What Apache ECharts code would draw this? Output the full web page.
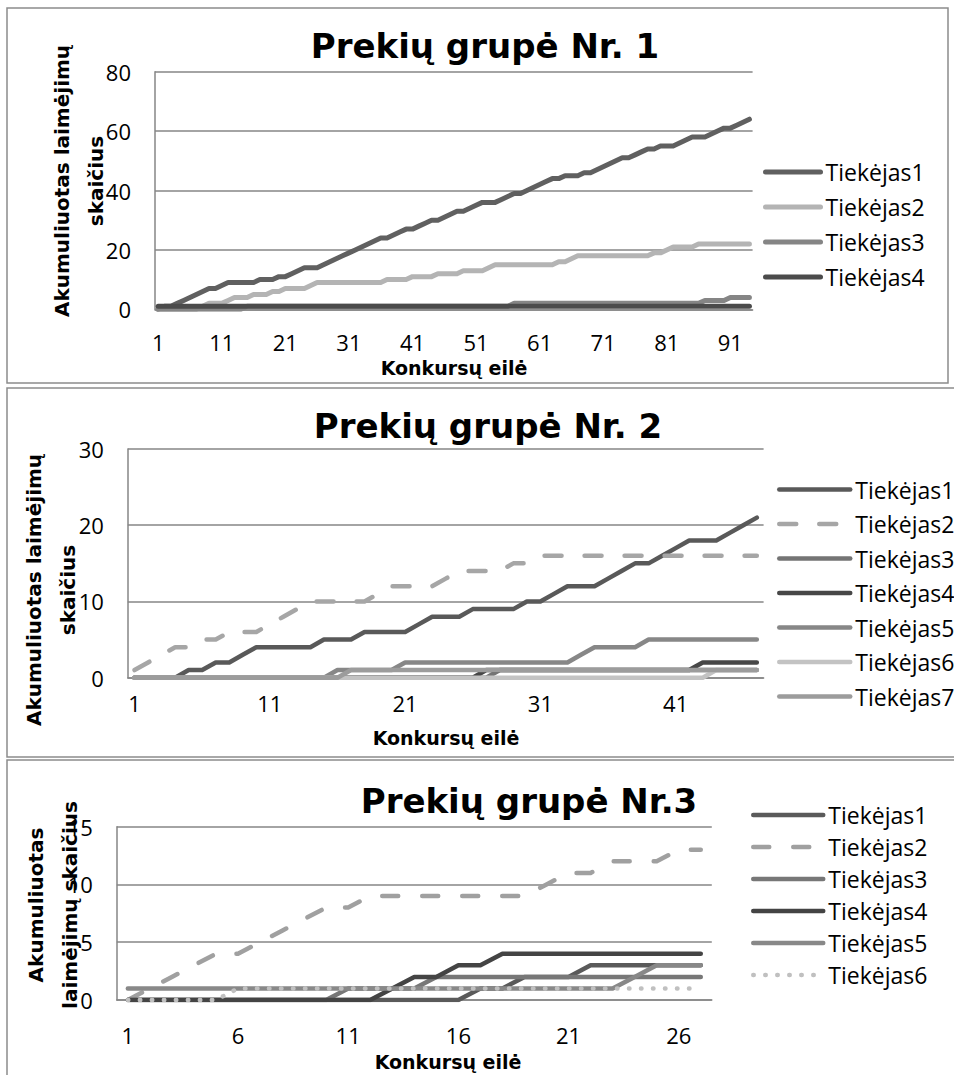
<!DOCTYPE html>
<html><head><meta charset="utf-8">
<script src="https://cdn.jsdelivr.net/npm/echarts@6/dist/echarts.min.js"></script>
<style>
html,body{margin:0;padding:0;background:#fff;width:954px;height:1075px;overflow:hidden;}
.c{position:absolute;left:0;width:954px;}
</style></head><body>
<div id="c1" class="c" style="top:0;height:386px"></div>
<div id="c2" class="c" style="top:386px;height:372px"></div>
<div id="c3" class="c" style="top:758px;height:317px"></div>
<script>
// ---------- DATA ----------
const names = ['Tiekėjas1','Tiekėjas2','Tiekėjas3','Tiekėjas4','Tiekėjas5','Tiekėjas6','Tiekėjas7'];

const cats1 = [1,2,3,4,5,6,7,8,9,10,11,12,13,14,15,16,17,18,19,20,21,22,23,24,25,26,27,28,29,30,31,32,33,34,35,36,37,38,39,40,41,42,43,44,45,46,47,48,49,50,51,52,53,54,55,56,57,58,59,60,61,62,63,64,65,66,67,68,69,70,71,72,73,74,75,76,77,78,79,80,81,82,83,84,85,86,87,88,89,90,91,92,93,94];
const g1_t1 = [0,1,1,2,3,4,5,6,7,7, 8,9,9,9,9,9,10,10,10,11, 11,12,13,14,14,14,15,16,17,18, 19,20,21,22,23,24,24,25,26,27, 27,28,29,30,30,31,32,33,33,34, 35,36,36,36,37,38,39,39,40,41, 42,43,44,44,45,45,45,46,46,47, 48,49,50,51,51,52,53,54,54,55, 55,55,56,57,58,58,58,59,60,61, 61,62,63,64];
const g1_t2 = [0,0,0,0,0,0,0,1,2,2, 2,3,4,4,4,5,5,5,6,6, 7,7,7,7,8,9,9,9,9,9, 9,9,9,9,9,9,10,10,10,10, 11,11,11,11,12,12,12,12,13,13, 13,13,14,15,15,15,15,15,15,15, 15,15,15,16,16,17,18,18,18,18, 18,18,18,18,18,18,18,18,19,19, 20,21,21,21,21,22,22,22,22,22, 22,22,22,22];
const g1_t3 = [0,0,0,0,0,0,0,0,0,0, 0,0,0,0,1,1,1,1,1,1, 1,1,1,1,1,1,1,1,1,1, 1,1,1,1,1,1,1,1,1,1, 1,1,1,1,1,1,1,1,1,1, 1,1,1,1,1,1,2,2,2,2, 2,2,2,2,2,2,2,2,2,2, 2,2,2,2,2,2,2,2,2,2, 2,2,2,2,2,2,3,3,3,3, 4,4,4,4];
const g1_t4 = [1,1,1,1,1,1,1,1,1,1, 1,1,1,1,1,1,1,1,1,1, 1,1,1,1,1,1,1,1,1,1, 1,1,1,1,1,1,1,1,1,1, 1,1,1,1,1,1,1,1,1,1, 1,1,1,1,1,1,1,1,1,1, 1,1,1,1,1,1,1,1,1,1, 1,1,1,1,1,1,1,1,1,1, 1,1,1,1,1,1,1,1,1,1, 1,1,1,1];

const cats2 = [1,2,3,4,5,6,7,8,9,10,11,12,13,14,15,16,17,18,19,20,21,22,23,24,25,26,27,28,29,30,31,32,33,34,35,36,37,38,39,40,41,42,43,44,45,46,47];
const g2_t1 = [0,0,0,0,1,1,2,2,3,4, 4,4,4,4,5,5,5,6,6,6, 6,7,8,8,8,9,9,9,9,10, 10,11,12,12,12,13,14,15,15,16, 17,18,18,18,19,20,21];
const g2_t2 = [1,2,3,4,4,5,5,6,6,6, 7,8,9,10,10,10,10,10,11,12, 12,12,12,13,14,14,14,14,15,15, 16,16,16,16,16,16,16,16,16,16, 16,16,16,16,16,16,16];
const g2_t3 = [0,0,0,0,0,0,0,0,0,0, 0,0,0,0,0,0,0,0,0,0, 0,0,0,0,0,0,0,1,1,1, 1,1,1,1,1,1,1,1,1,1, 1,1,1,1,1,1,1];
const g2_t4 = [0,0,0,0,0,0,0,0,0,0, 0,0,0,0,0,0,0,0,0,0, 0,0,0,0,0,0,1,1,1,1, 1,1,1,1,1,1,1,1,1,1, 1,1,2,2,2,2,2];
const g2_t5 = [0,0,0,0,0,0,0,0,0,0, 0,0,0,0,0,1,1,1,1,1, 2,2,2,2,2,2,2,2,2,2, 2,2,2,3,4,4,4,4,5,5, 5,5,5,5,5,5,5];
const g2_t6 = [0,0,0,0,0,0,0,0,0,0, 0,0,0,0,0,0,0,0,0,0, 0,0,0,0,0,0,0,0,0,0, 0,0,0,0,0,0,0,0,0,0, 0,0,0,1,1,1,1];
const g2_t7 = [0,0,0,0,0,0,0,0,0,0, 0,0,0,0,0,0,1,1,1,1, 1,1,1,1,1,1,1,1,1,1, 1,1,1,1,1,1,1,1,1,1, 1,1,1,1,1,1,1];

const cats3 = [1,2,3,4,5,6,7,8,9,10,11,12,13,14,15,16,17,18,19,20,21,22,23,24,25,26,27];
const g3_t1 = [0,0,0,0,0,0,0,0,0,0, 0,0,0,0,0,0,1,1,2,2, 2,3,3,3,3,3,3];
const g3_t2 = [0,1,2,3,4,4,5,6,7,8, 8,9,9,9,9,9,9,9,9,10, 11,11,12,12,12,13,13];
const g3_t3 = [0,0,0,0,0,0,0,0,0,0, 1,1,1,1,2,2,2,2,2,2, 2,2,2,2,2,2,2];
const g3_t4 = [0,0,0,0,0,0,0,0,0,0, 0,0,1,2,2,3,3,4,4,4, 4,4,4,4,4,4,4];
const g3_t5 = [1,1,1,1,1,1,1,1,1,1, 1,1,1,1,1,1,1,1,1,1, 1,1,1,2,3,3,3];
const g3_t6 = [0,0,0,0,0,1,1,1,1,1, 1,1,1,1,1,1,1,1,1,1, 1,1,1,1,1,1,1];

const yTicks1 = {min:0, max:80, interval:20};
const yTicks2 = {min:0, max:30, interval:10};
const yTicks3 = {min:0, max:15, interval:5};

const titles = ['Prekių grupė Nr. 1','Prekių grupė Nr. 2','Prekių grupė Nr.3'];
const xTitle = 'Konkursų eilė';
const yTitleA = 'Akumuliuotas laimėjimų\nskaičius';
const yTitleB = 'Akumuliuotas\nlaimėjimų skaičius';

// ---------- STYLE ----------
const AX = '#868686';
const TICKFONT = 'Open Sans';
const HEADFONT = 'DejaVu Sans';

function build(dom, cfg){
  const chart = echarts.init(dom, null, {renderer:'svg'});
  const series = cfg.series.map(s => ({
    name: s.name, type:'line', data: s.data, symbol:'none', showSymbol:false,
    animation:false, silent:true,
    lineStyle:{color:s.color, width:cfg.lw, type:s.type||'solid', cap:'round', join:'round'},
    itemStyle:{color:s.color}
  }));
  chart.setOption({
    animation:false,
    grid: cfg.grid,
    xAxis:{type:'category', data:cfg.cats, boundaryGap:true,
      axisTick:{show:false},
      axisLine:{lineStyle:{color:AX, width:1.5}},
      axisLabel:{interval:cfg.labInt, margin:cfg.xMargin, fontSize:22, fontFamily:TICKFONT, color:'#000'},
      splitLine:{show:false}},
    yAxis:{type:'value', min:cfg.y.min, max:cfg.y.max, interval:cfg.y.interval,
      axisLine:{show:true, lineStyle:{color:AX, width:1.5}},
      axisTick:{show:false},
      splitLine:{show:true, lineStyle:{color:AX, width:1.5}},
      axisLabel:{margin:24, fontSize:22, fontFamily:TICKFONT, color:'#000'}},
    legend:{orient:'vertical', left:cfg.leg.left, top:cfg.leg.top,
      itemWidth:cfg.leg.w, itemHeight:10, itemGap:cfg.leg.gap,
      lineStyle:{width:cfg.lw},
      itemStyle:{opacity:0, borderWidth:0},
      textStyle:{fontFamily:TICKFONT, fontSize:23, lineHeight:23, color:'#000'},
      selectedMode:false,
      data: cfg.series.map(s=>s.name)},
    graphic:[
      {type:'rect', silent:true, z:-10, shape:cfg.box, style:{fill:'none', stroke:'#8c8c8c', lineWidth:1.5}},
      {type:'text', silent:true, x:cfg.title.x, y:cfg.title.y,
        style:{text:cfg.title.text, fontFamily:HEADFONT, fontWeight:'bold', fontSize:34, fill:'#000', align:'center', verticalAlign:'middle'}},
      {type:'text', silent:true, x:cfg.xt.x, y:cfg.xt.y,
        style:{text:xTitle, fontFamily:HEADFONT, fontWeight:'bold', fontSize:19, fill:'#000', align:'center', verticalAlign:'middle'}},
      {type:'text', silent:true, x:cfg.yt.x, y:cfg.yt.y, rotation:Math.PI/2,
        style:{text:cfg.yt.text, fontFamily:HEADFONT, fontWeight:'bold', fontSize:20, lineHeight:34, fill:'#000', align:'center', verticalAlign:'middle'}}
    ],
    series: series
  });
}

build(document.getElementById('c1'), {
  cats:cats1, y:yTicks1, labInt:9, xMargin:22, lw:5,
  grid:{left:155, top:71.7, width:597.6, height:237.6},
  leg:{left:758, top:155.5, w:55, gap:12},
  box:{x:7, y:8, width:941, height:375},
  title:{text:titles[0], x:485, y:46},
  xt:{x:454, y:368},
  yt:{x:79, y:181, text:yTitleA},
  series:[
    {name:names[0], data:g1_t1, color:'#606060'},
    {name:names[1], data:g1_t2, color:'#b4b4b4'},
    {name:names[2], data:g1_t3, color:'#858585'},
    {name:names[3], data:g1_t4, color:'#4b4b4b'}
  ]
});

build(document.getElementById('c2'), {
  cats:cats2, y:yTicks2, labInt:9, xMargin:14, lw:4.5,
  grid:{left:127.8, top:63, width:635.8, height:228.7},
  leg:{left:772, top:87, w:71, gap:11.5},
  box:{x:7, y:2, width:960, height:369},
  title:{text:titles[1], x:488, y:40},
  xt:{x:446, y:352},
  yt:{x:51, y:204, text:yTitleA},
  series:[
    {name:names[0], data:g2_t1, color:'#595959'},
    {name:names[1], data:g2_t2, color:'#a6a6a6', type:[17,23]},
    {name:names[2], data:g2_t3, color:'#747474'},
    {name:names[3], data:g2_t4, color:'#474747'},
    {name:names[4], data:g2_t5, color:'#878787'},
    {name:names[5], data:g2_t6, color:'#c3c3c3'},
    {name:names[6], data:g2_t7, color:'#9c9c9c'}
  ]
});

build(document.getElementById('c3'), {
  cats:cats3, y:yTicks3, labInt:4, xMargin:24, lw:4.5,
  grid:{left:116.8, top:68.7, width:595, height:173.3},
  leg:{left:746, top:40.5, w:70, gap:9},
  box:{x:7, y:2, width:960, height:400},
  title:{text:titles[2], x:529, y:43},
  xt:{x:448, y:304},
  yt:{x:53, y:147, text:yTitleB},
  series:[
    {name:names[0], data:g3_t1, color:'#5a5a5a'},
    {name:names[1], data:g3_t2, color:'#a0a0a0', type:[16,24]},
    {name:names[2], data:g3_t3, color:'#777777'},
    {name:names[3], data:g3_t4, color:'#444444'},
    {name:names[4], data:g3_t5, color:'#888888'},
    {name:names[5], data:g3_t6, color:'#c0c0c0', type:[0.5,11.5]}
  ]
});
</script>
</body></html>
